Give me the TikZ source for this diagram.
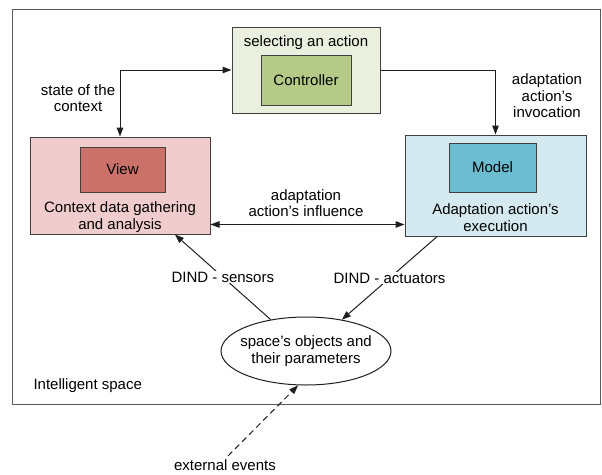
\documentclass[tikz,border=0pt]{standalone}
\usepackage{fontspec}
\setmainfont{Liberation Sans}
\usetikzlibrary{shapes.geometric,arrows.meta}
\definecolor{framegray}{HTML}{5A5A5A}
\definecolor{boxline}{HTML}{404040}
\definecolor{arrowline}{HTML}{1E1E1E}
\definecolor{ctrlback}{HTML}{EBEFDD}
\definecolor{ctrlfill}{HTML}{B6CA88}
\definecolor{viewback}{HTML}{F0CDCC}
\definecolor{viewfill}{HTML}{CC716A}
\definecolor{modelback}{HTML}{D4EAF0}
\definecolor{modelfill}{HTML}{6CBDD1}

\begin{document}
\begin{tikzpicture}
      [x=1pt,y=-1pt,>={Triangle[length=9pt,width=6.5pt]},
      every node/.style={align=center,font=\fontsize{15}{16.5}\selectfont},
      outerbox/.style={draw=boxline,line width=1pt,inner sep=0pt},
      innerbox/.style={draw=boxline,line width=1pt,inner sep=0pt},
      conn/.style={draw=arrowline,line width=1pt},
      tag/.style={fill=white,inner sep=1pt}]
      \useasboundingbox (0,0) rectangle (602,474);
      \draw[framegray,line width=1pt] (12,9) rectangle (600,404);
      \node[anchor=west] (space) at (30,386) {Intelligent space};
      % controller
      \node[outerbox,fill=ctrlback,minimum width=148pt,minimum height=86pt]
         (ctrlbox) at (306,70) {};
      \node (ctrltitle) at (306,43) {selecting an action};
      \node[innerbox,fill=ctrlfill,minimum width=90pt,minimum height=50pt]
         (ctrl) at (306,80) {Controller};
      % view
      \node[outerbox,fill=viewback,minimum width=180pt,minimum height=97pt]
         (viewbox) at (120,185.5) {};
      \node[innerbox,fill=viewfill,minimum width=85pt,minimum height=45pt]
         (view) at (122.5,169.5) {View};
      \node (viewtext) at (120,217) {Context data gathering\\and analysis};
      % model
      \node[outerbox,fill=modelback,minimum width=181pt,minimum height=101pt]
         (modelbox) at (495.5,185.5) {};
      \node[innerbox,fill=modelfill,minimum width=87pt,minimum height=49pt]
         (model) at (492.5,167.5) {Model};
      \node (modeltext) at (495.5,217.5) {Adaptation action's\\execution};
      % objects
      \node[ellipse,draw=arrowline,line width=1pt,minimum width=170pt,minimum height=68pt,
         label={[align=center]center:space's objects and\\their parameters}]
         (objects) at (306,351) {};
      \node (ext) at (225,465) {external events};
      % connectors
      \draw[conn,<->] (viewbox.north) |- (ctrlbox.west);
      \draw[conn,->] (ctrlbox.east) -| (modelbox.north);
      \draw[conn,<->] ([yshift=10pt]viewbox.south east) -- ([yshift=10pt]viewbox.south east -| modelbox.west);
      \draw[conn,->] (objects) -- node[tag] {DIND - sensors} (viewbox);
      \draw[conn,->] (modelbox) -- node[tag] {DIND - actuators} (objects);
      \draw[conn,->,dash pattern=on 6pt off 4pt] ([xshift=3pt]ext.north) -- (objects.257);
      % labels
      \node (statelbl) at (78,98) {state of the\\context};
      \node (invoklbl) at (547,96) {adaptation\\action's\\invocation};
      \node (inflbl) at (306,203) {adaptation\\action's influence};
\end{tikzpicture}
\end{document}
